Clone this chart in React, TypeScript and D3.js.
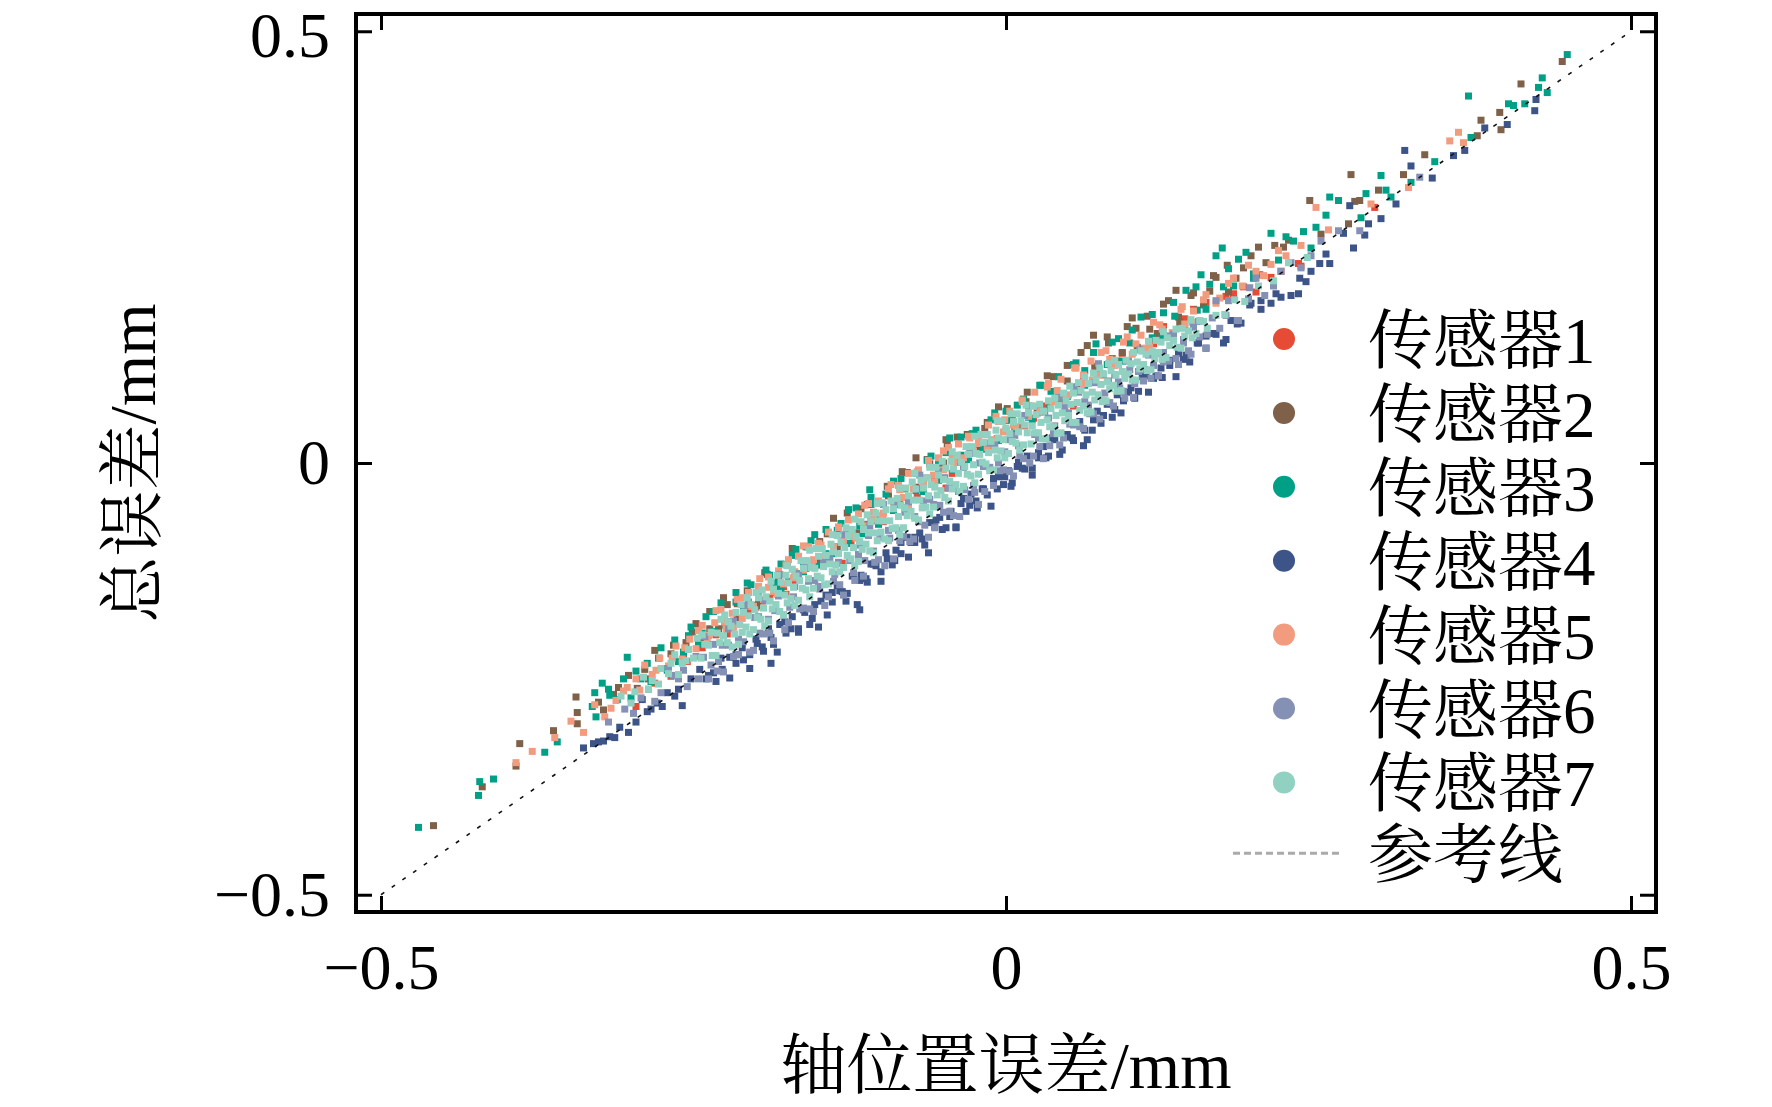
import React, { useEffect, useRef } from 'react';
import * as d3 from 'd3';

type Pt = [number, number];

const sensorNames = ['传感器1', '传感器2', '传感器3', '传感器4', '传感器5', '传感器6', '传感器7'];
const sensorColors = ['#E64B35', '#7E6148', '#00A087', '#3C5488', '#F39B7F', '#8491B4', '#91D1C2'];
const refLabel = '参考线';
const tickValues = [-0.5, 0, 0.5];
const refLine: Pt[] = [[-0.5, -0.5], [0.5, 0.5]];

// [轴位置误差, 总误差] per sensor
const sensor1: Pt[] = [
  [-0.296,-0.282],[-0.281,-0.255],[-0.268,-0.247],[-0.255,-0.230],[-0.243,-0.214],[-0.232,-0.199],[-0.223,-0.198],
  [-0.214,-0.180],[-0.206,-0.172],[-0.200,-0.167],[-0.195,-0.160],[-0.189,-0.156],[-0.184,-0.150],[-0.178,-0.143],
  [-0.170,-0.140],[-0.160,-0.122],[-0.149,-0.118],[-0.137,-0.100],[-0.124,-0.093],[-0.112,-0.071],[-0.098,-0.068],
  [-0.085,-0.046],[-0.071,-0.040],[-0.057,-0.018],[-0.043,-0.012],[-0.028,0.012],[-0.014,0.016],[0.000,0.038],
  [0.015,0.043],[0.031,0.066],[0.047,0.073],[0.062,0.098],[0.078,0.102],[0.093,0.127],[0.110,0.132],[0.126,0.158],
  [0.143,0.167],[0.160,0.186],[0.176,0.193],[0.190,0.204],[0.200,0.198],[0.212,0.215],[0.220,0.222],[0.234,0.231],
  [0.236,0.228],[0.295,0.296],
  [-0.219,-0.190],[-0.197,-0.159],[-0.176,-0.152],[-0.153,-0.120],[-0.131,-0.116],[-0.108,-0.067],[-0.079,-0.052],
  [-0.048,-0.029],[-0.003,-0.012],[0.022,0.052],[0.054,0.066],[0.085,0.121],[0.118,0.138],[0.150,0.178],[0.182,0.196],
];

const sensor2: Pt[] = [
  [-0.458,-0.420],[-0.419,-0.375],[-0.392,-0.351],[-0.389,-0.325],[-0.362,-0.310],[-0.344,-0.271],[-0.343,-0.289],
  [-0.343,-0.302],[-0.322,-0.286],[-0.310,-0.260],[-0.295,-0.261],[-0.289,-0.239],[-0.281,-0.217],[-0.274,-0.238],
  [-0.266,-0.211],[-0.258,-0.221],[-0.251,-0.196],[-0.244,-0.208],[-0.237,-0.172],[-0.230,-0.192],[-0.223,-0.164],
  [-0.215,-0.181],[-0.207,-0.148],[-0.199,-0.165],[-0.191,-0.129],[-0.183,-0.146],[-0.175,-0.118],[-0.167,-0.132],
  [-0.159,-0.097],[-0.151,-0.115],[-0.143,-0.082],[-0.135,-0.097],[-0.127,-0.058],[-0.119,-0.081],[-0.111,-0.048],
  [-0.103,-0.066],[-0.095,-0.027],[-0.087,-0.048],[-0.079,-0.011],[-0.072,0.006],[-0.071,-0.030],[-0.063,0.004],
  [-0.055,-0.016],[-0.048,0.027],[-0.047,0.022],[-0.039,0.001],[-0.031,0.033],[-0.023,0.015],[-0.015,0.047],
  [-0.007,0.028],[0.001,0.063],[0.009,0.041],[0.017,0.082],[0.025,0.058],[0.033,0.101],[0.041,0.073],[0.049,0.113],
  [0.057,0.088],[0.065,0.136],[0.070,0.148],[0.073,0.104],[0.081,0.146],[0.089,0.118],[0.097,0.158],[0.101,0.168],
  [0.105,0.134],[0.113,0.170],[0.121,0.150],[0.130,0.188],[0.136,0.200],[0.139,0.163],[0.148,0.194],[0.158,0.183],
  [0.166,0.217],[0.168,0.215],[0.178,0.198],[0.190,0.226],[0.202,0.250],[0.203,0.218],[0.215,0.252],[0.222,0.250],
  [0.243,0.304],[0.252,0.265],[0.274,0.277],[0.276,0.334],[0.279,0.303],[0.283,0.304],[0.298,0.316],[0.318,0.334],
  [0.335,0.357],[0.377,0.379],[0.380,0.397],[0.395,0.406],[0.396,0.386],[0.412,0.439],[0.445,0.465],
  [-0.248,-0.186],[-0.237,-0.192],[-0.226,-0.156],[-0.215,-0.163],[-0.204,-0.166],[-0.193,-0.127],[-0.182,-0.133],
  [-0.171,-0.099],[-0.160,-0.119],[-0.149,-0.091],[-0.138,-0.064],[-0.127,-0.080],[-0.116,-0.053],[-0.105,-0.066],
  [-0.094,-0.038],[-0.083,-0.010],[-0.072,-0.028],[-0.061,-0.001],[-0.050,0.000],[-0.039,0.030],[-0.028,0.014],
  [-0.017,0.040],[-0.006,0.065],[0.005,0.050],[0.016,0.071],[0.027,0.065],[0.038,0.100],[0.049,0.095],[0.060,0.128],
  [0.071,0.112],[0.082,0.139],[0.093,0.128],[0.104,0.156],[0.115,0.155],[0.126,0.184],[0.138,0.169],[0.150,0.197],
  [0.163,0.199],[0.177,0.229],
  [-0.326,-0.277],[-0.314,-0.268],[-0.302,-0.246],[-0.286,-0.250],[-0.268,-0.221],[-0.256,-0.208],
  [0.184,0.214],[0.196,0.240],[0.208,0.232],[0.226,0.258],
];

const sensor3: Pt[] = [
  [-0.470,-0.422],[-0.422,-0.385],[-0.421,-0.369],[-0.410,-0.366],[-0.369,-0.335],[-0.359,-0.323],[-0.331,-0.282],
  [-0.329,-0.266],[-0.328,-0.294],[-0.323,-0.255],[-0.317,-0.269],[-0.311,-0.274],[-0.303,-0.225],[-0.300,-0.272],
  [-0.292,-0.250],[-0.284,-0.253],[-0.278,-0.226],[-0.271,-0.240],[-0.265,-0.205],[-0.258,-0.219],[-0.252,-0.190],
  [-0.246,-0.210],[-0.240,-0.178],[-0.234,-0.195],[-0.228,-0.162],[-0.222,-0.184],[-0.216,-0.150],[-0.210,-0.170],
  [-0.204,-0.141],[-0.198,-0.157],[-0.192,-0.124],[-0.186,-0.148],[-0.184,-0.139],[-0.180,-0.117],[-0.174,-0.137],
  [-0.168,-0.100],[-0.162,-0.126],[-0.160,-0.097],[-0.156,-0.090],[-0.150,-0.118],[-0.144,-0.077],[-0.138,-0.105],
  [-0.132,-0.070],[-0.126,-0.093],[-0.120,-0.052],[-0.114,-0.082],[-0.109,-0.031],[-0.108,-0.040],[-0.102,-0.071],
  [-0.096,-0.036],[-0.090,-0.055],[-0.084,-0.018],[-0.078,-0.044],[-0.072,-0.012],[-0.066,-0.033],[-0.060,0.008],
  [-0.054,-0.020],[-0.048,0.012],[-0.042,-0.008],[-0.036,0.030],[-0.030,0.004],[-0.024,0.038],[-0.018,0.016],
  [-0.012,0.050],[-0.006,0.026],[0.000,0.060],[0.007,0.038],[0.014,0.074],[0.021,0.050],[0.028,0.090],[0.035,0.064],
  [0.042,0.100],[0.049,0.077],[0.056,0.116],[0.063,0.090],[0.070,0.128],[0.077,0.103],[0.085,0.140],[0.093,0.118],
  [0.101,0.154],[0.109,0.130],[0.117,0.172],[0.125,0.146],[0.134,0.186],[0.143,0.160],[0.152,0.204],[0.160,0.178],
  [0.168,0.240],[0.173,0.249],[0.182,0.205],[0.198,0.214],[0.212,0.266],[0.218,0.235],[0.230,0.257],[0.244,0.249],
  [0.248,0.273],[0.256,0.287],[0.259,0.308],[0.266,0.304],[0.284,0.284],[0.288,0.312],[0.300,0.333],[0.304,0.316],
  [0.308,0.308],[0.324,0.325],[0.343,0.349],[0.370,0.425],[0.372,0.377],[0.402,0.416],[0.406,0.414],[0.415,0.416],
  [0.426,0.435],[0.429,0.446],[0.433,0.429],[0.449,0.473],
  [-0.243,-0.197],[-0.234,-0.172],[-0.225,-0.188],[-0.216,-0.161],[-0.207,-0.139],[-0.198,-0.155],[-0.189,-0.130],
  [-0.180,-0.146],[-0.171,-0.107],[-0.162,-0.114],[-0.153,-0.083],[-0.144,-0.105],[-0.135,-0.078],[-0.126,-0.054],
  [-0.117,-0.073],[-0.108,-0.048],[-0.099,-0.063],[-0.090,-0.021],[-0.081,-0.030],[-0.072,-0.032],[-0.063,0.003],
  [-0.054,-0.001],[-0.045,0.029],[-0.036,0.009],[-0.027,0.034],[-0.018,0.019],[-0.009,0.058],[0.000,0.049],
  [0.009,0.067],[0.018,0.053],[0.027,0.090],[0.036,0.083],[0.045,0.075],[0.054,0.114],[0.063,0.107],[0.072,0.138],
  [0.081,0.114],[0.090,0.144],[0.099,0.139],[0.108,0.169],[0.117,0.145],[0.126,0.174],[0.135,0.170],[0.144,0.200],
  [0.153,0.177],[0.163,0.207],[0.174,0.204],[0.186,0.236],[0.198,0.219],
  [-0.318,-0.262],[-0.306,-0.250],[-0.296,-0.241],[-0.287,-0.232],[-0.276,-0.214],[-0.262,-0.230],[-0.254,-0.200],
  [0.156,0.218],[0.178,0.225],[0.192,0.244],[0.224,0.262],[0.238,0.268],
];

const sensor4: Pt[] = [
  [-0.338,-0.330],[-0.330,-0.325],[-0.326,-0.323],[-0.317,-0.317],[-0.309,-0.306],[-0.302,-0.312],[-0.291,-0.274],
  [-0.287,-0.288],[-0.279,-0.278],[-0.271,-0.266],[-0.265,-0.270],[-0.259,-0.281],[-0.252,-0.250],[-0.245,-0.239],
  [-0.240,-0.250],[-0.234,-0.243],[-0.228,-0.226],[-0.221,-0.225],[-0.216,-0.232],[-0.211,-0.214],[-0.205,-0.222],
  [-0.200,-0.204],[-0.195,-0.213],[-0.190,-0.192],[-0.188,-0.232],[-0.186,-0.210],[-0.181,-0.187],[-0.176,-0.197],
  [-0.171,-0.178],[-0.166,-0.192],[-0.162,-0.170],[-0.157,-0.187],[-0.153,-0.164],[-0.148,-0.160],[-0.143,-0.176],
  [-0.139,-0.150],[-0.135,-0.142],[-0.131,-0.149],[-0.127,-0.151],[-0.123,-0.131],[-0.119,-0.164],[-0.117,-0.170],
  [-0.116,-0.130],[-0.112,-0.134],[-0.108,-0.117],[-0.104,-0.119],[-0.100,-0.126],[-0.096,-0.104],[-0.091,-0.118],
  [-0.088,-0.101],[-0.084,-0.105],[-0.079,-0.086],[-0.076,-0.092],[-0.073,-0.092],[-0.069,-0.081],[-0.065,-0.095],
  [-0.061,-0.069],[-0.057,-0.074],[-0.053,-0.063],[-0.048,-0.075],[-0.044,-0.056],[-0.040,-0.075],[-0.036,-0.047],
  [-0.032,-0.056],[-0.028,-0.036],[-0.024,-0.044],[-0.019,-0.030],[-0.015,-0.037],[-0.010,-0.018],[-0.006,-0.016],
  [-0.002,-0.025],[0.002,-0.009],[0.005,-0.023],[0.009,-0.004],[0.013,-0.006],[0.017,0.008],[0.021,-0.006],
  [0.026,0.006],[0.030,0.019],[0.034,0.008],[0.039,0.027],[0.045,0.015],[0.049,0.033],[0.053,0.029],[0.058,0.046],
  [0.062,0.020],[0.063,0.038],[0.069,0.038],[0.073,0.060],[0.078,0.055],[0.085,0.053],[0.089,0.079],[0.094,0.072],
  [0.100,0.087],[0.106,0.083],[0.112,0.101],[0.118,0.098],[0.124,0.110],[0.131,0.113],[0.138,0.127],[0.144,0.125],
  [0.154,0.139],[0.160,0.147],[0.166,0.150],[0.174,0.139],[0.180,0.165],[0.188,0.162],[0.196,0.185],[0.204,0.188],
  [0.212,0.185],[0.220,0.192],[0.228,0.194],[0.234,0.196],[0.235,0.214],[0.244,0.222],[0.251,0.231],[0.259,0.231],
  [0.270,0.266],[0.275,0.298],[0.278,0.249],[0.287,0.264],[0.290,0.277],[0.300,0.283],[0.312,0.300],[0.319,0.362],
  [0.324,0.344],[0.341,0.330],[0.358,0.356],[0.367,0.362],[0.383,0.388],[0.401,0.392],[0.423,0.408],[0.424,0.421],
  [-0.238,-0.246],[-0.232,-0.253],[-0.227,-0.239],[-0.221,-0.249],[-0.216,-0.222],[-0.210,-0.228],[-0.205,-0.238],
  [-0.199,-0.209],[-0.194,-0.218],[-0.188,-0.202],[-0.183,-0.219],[-0.177,-0.184],[-0.172,-0.192],[-0.166,-0.196],
  [-0.161,-0.173],[-0.155,-0.180],[-0.150,-0.190],[-0.144,-0.153],[-0.139,-0.161],[-0.133,-0.148],[-0.128,-0.160],
  [-0.122,-0.128],[-0.117,-0.136],[-0.111,-0.138],[-0.106,-0.117],[-0.100,-0.137],[-0.095,-0.111],[-0.089,-0.113],
  [-0.084,-0.092],[-0.078,-0.109],[-0.073,-0.086],[-0.067,-0.088],[-0.062,-0.104],[-0.056,-0.066],[-0.051,-0.077],
  [-0.045,-0.062],[-0.040,-0.074],[-0.034,-0.041],[-0.029,-0.049],[-0.023,-0.052],[-0.018,-0.030],[-0.012,-0.050],
  [-0.007,-0.030],[-0.001,-0.016],[0.004,-0.027],[0.010,0.001],[0.015,-0.007],[0.021,-0.014],[0.026,0.012],
  [0.032,0.006],[0.037,0.029],[0.043,0.010],[0.048,0.030],[0.054,0.026],[0.059,0.048],[0.065,0.027],[0.070,0.050],
  [0.076,0.046],[0.081,0.068],[0.087,0.062],[0.092,0.058],[0.098,0.082],[0.103,0.075],[0.109,0.100],[0.114,0.082],
  [0.120,0.101],[0.125,0.099],[0.131,0.119],[0.136,0.100],[0.142,0.120],[0.147,0.117],[0.153,0.139],[0.160,0.133],
  [0.168,0.149],[0.176,0.143],[0.185,0.161],[0.195,0.183],
  [-0.322,-0.322],[-0.313,-0.318],[-0.296,-0.300],[-0.284,-0.285],[-0.275,-0.282],[-0.262,-0.262],
  [0.204,0.178],[0.216,0.196],[0.240,0.210],[0.256,0.242],
];

const sensor5: Pt[] = [
  [-0.392,-0.347],[-0.379,-0.334],[-0.361,-0.318],[-0.348,-0.299],[-0.338,-0.312],[-0.329,-0.280],[-0.321,-0.294],
  [-0.312,-0.275],[-0.303,-0.260],[-0.296,-0.250],[-0.289,-0.234],[-0.283,-0.245],[-0.277,-0.226],[-0.270,-0.235],
  [-0.264,-0.212],[-0.259,-0.227],[-0.253,-0.204],[-0.248,-0.215],[-0.243,-0.188],[-0.238,-0.200],[-0.233,-0.185],
  [-0.228,-0.170],[-0.224,-0.192],[-0.219,-0.174],[-0.215,-0.158],[-0.211,-0.180],[-0.206,-0.150],[-0.202,-0.166],
  [-0.198,-0.143],[-0.194,-0.158],[-0.190,-0.132],[-0.186,-0.149],[-0.182,-0.125],[-0.178,-0.140],[-0.174,-0.112],
  [-0.170,-0.133],[-0.166,-0.108],[-0.162,-0.124],[-0.158,-0.097],[-0.154,-0.112],[-0.150,-0.093],[-0.146,-0.110],
  [-0.142,-0.080],[-0.138,-0.097],[-0.134,-0.075],[-0.130,-0.090],[-0.126,-0.066],[-0.122,-0.085],[-0.118,-0.059],
  [-0.114,-0.073],[-0.110,-0.047],[-0.106,-0.065],[-0.102,-0.044],[-0.098,-0.058],[-0.094,-0.030],[-0.090,-0.050],
  [-0.086,-0.026],[-0.082,-0.040],[-0.078,-0.012],[-0.074,-0.030],[-0.070,-0.008],[-0.066,-0.022],[-0.062,0.003],
  [-0.058,-0.014],[-0.054,0.006],[-0.050,-0.008],[-0.046,0.018],[-0.042,0.001],[-0.038,0.022],[-0.034,0.006],
  [-0.030,0.031],[-0.026,0.014],[-0.022,0.030],[-0.018,0.024],[-0.014,0.044],[-0.010,0.027],[-0.006,0.048],
  [-0.002,0.036],[0.003,0.060],[0.008,0.042],[0.013,0.071],[0.018,0.054],[0.023,0.082],[0.028,0.060],[0.033,0.088],
  [0.038,0.071],[0.044,0.097],[0.050,0.079],[0.056,0.110],[0.062,0.092],[0.068,0.118],[0.074,0.102],[0.080,0.130],
  [0.087,0.113],[0.094,0.140],[0.101,0.126],[0.108,0.148],[0.115,0.134],[0.123,0.160],[0.131,0.147],[0.140,0.178],
  [0.143,0.161],[0.149,0.163],[0.158,0.189],[0.168,0.185],[0.178,0.208],[0.189,0.205],[0.200,0.222],[0.212,0.230],
  [0.224,0.240],[0.236,0.252],[0.248,0.296],[0.258,0.270],[0.292,0.300],[0.322,0.319],[0.355,0.373],[0.362,0.383],
  [0.366,0.371],
  [-0.246,-0.194],[-0.239,-0.205],[-0.232,-0.171],[-0.225,-0.184],[-0.218,-0.190],[-0.211,-0.156],[-0.204,-0.166],
  [-0.197,-0.134],[-0.190,-0.144],[-0.183,-0.152],[-0.176,-0.118],[-0.169,-0.126],[-0.162,-0.096],[-0.155,-0.119],
  [-0.148,-0.095],[-0.141,-0.114],[-0.134,-0.074],[-0.127,-0.082],[-0.120,-0.087],[-0.113,-0.049],[-0.106,-0.057],
  [-0.099,-0.061],[-0.092,-0.025],[-0.085,-0.031],[-0.078,-0.049],[-0.071,-0.010],[-0.064,-0.017],[-0.057,-0.022],
  [-0.050,0.014],[-0.043,0.007],[-0.036,0.004],[-0.029,0.029],[-0.022,0.023],[-0.015,0.018],[-0.008,0.054],
  [-0.001,0.050],[0.006,0.044],[0.013,0.073],[0.020,0.066],[0.027,0.059],[0.034,0.092],[0.041,0.084],[0.048,0.078],
  [0.055,0.110],[0.062,0.102],[0.069,0.096],[0.076,0.128],[0.083,0.120],[0.090,0.114],[0.097,0.146],[0.104,0.138],
  [0.111,0.133],[0.118,0.163],[0.125,0.155],[0.133,0.151],[0.141,0.181],[0.150,0.176],[0.160,0.195],[0.171,0.191],
  [-0.316,-0.284],[-0.306,-0.264],[-0.293,-0.263],[-0.280,-0.240],[-0.267,-0.226],[-0.257,-0.214],
  [0.182,0.214],[0.194,0.229],[0.206,0.217],[0.218,0.246],
];

const sensor6: Pt[] = [
  [-0.292,-0.272],[-0.281,-0.276],[-0.270,-0.238],[-0.262,-0.250],[-0.255,-0.259],[-0.248,-0.224],[-0.241,-0.201],
  [-0.236,-0.234],[-0.231,-0.241],[-0.227,-0.211],[-0.222,-0.192],[-0.218,-0.224],[-0.214,-0.204],[-0.209,-0.165],
  [-0.205,-0.219],[-0.201,-0.179],[-0.197,-0.197],[-0.193,-0.159],[-0.189,-0.197],[-0.185,-0.171],[-0.181,-0.129],
  [-0.177,-0.193],[-0.173,-0.167],[-0.169,-0.143],[-0.165,-0.169],[-0.161,-0.121],[-0.157,-0.169],[-0.153,-0.136],
  [-0.149,-0.146],[-0.145,-0.165],[-0.141,-0.112],[-0.137,-0.129],[-0.133,-0.141],[-0.129,-0.083],[-0.125,-0.113],
  [-0.121,-0.136],[-0.117,-0.095],[-0.113,-0.113],[-0.109,-0.073],[-0.105,-0.115],[-0.101,-0.086],[-0.097,-0.119],
  [-0.093,-0.087],[-0.089,-0.046],[-0.085,-0.090],[-0.081,-0.057],[-0.077,-0.091],[-0.073,-0.062],[-0.069,-0.014],
  [-0.065,-0.072],[-0.061,-0.042],[-0.057,-0.075],[-0.053,-0.049],[-0.049,-0.017],[-0.045,-0.056],[-0.041,-0.028],
  [-0.037,-0.062],[-0.033,-0.031],[-0.029,0.011],[-0.025,-0.034],[-0.021,0.000],[-0.017,-0.033],[-0.013,-0.005],
  [-0.009,0.021],[-0.005,-0.009],[-0.001,0.013],[0.003,-0.010],[0.007,0.032],[0.011,0.009],[0.015,0.055],
  [0.019,0.000],[0.023,0.033],[0.027,0.019],[0.031,0.059],[0.035,0.020],[0.039,0.043],[0.043,0.021],[0.047,0.065],
  [0.051,0.045],[0.055,0.088],[0.059,0.042],[0.063,0.071],[0.067,0.057],[0.071,0.093],[0.075,0.051],[0.079,0.081],
  [0.083,0.070],[0.087,0.102],[0.091,0.087],[0.095,0.075],[0.099,0.108],[0.103,0.092],[0.107,0.131],[0.111,0.108],
  [0.116,0.098],[0.121,0.127],[0.126,0.117],[0.131,0.147],[0.136,0.121],[0.142,0.143],[0.148,0.126],[0.154,0.164],
  [0.161,0.149],[0.168,0.188],[0.176,0.171],[0.185,0.165],[0.195,0.203],[0.207,0.194],[0.220,0.222],[0.236,0.226],
  [0.252,0.257],[0.266,0.269],[0.283,0.269],[0.331,0.331],
  [-0.246,-0.250],[-0.242,-0.225],[-0.238,-0.250],[-0.234,-0.210],[-0.230,-0.230],[-0.226,-0.242],[-0.222,-0.211],
  [-0.218,-0.183],[-0.214,-0.222],[-0.210,-0.207],[-0.206,-0.161],[-0.202,-0.217],[-0.198,-0.178],[-0.194,-0.198],
  [-0.190,-0.181],[-0.186,-0.206],[-0.182,-0.154],[-0.178,-0.176],[-0.174,-0.185],[-0.170,-0.155],[-0.166,-0.128],
  [-0.162,-0.168],[-0.158,-0.137],[-0.154,-0.172],[-0.150,-0.143],[-0.146,-0.115],[-0.142,-0.155],[-0.138,-0.137],
  [-0.134,-0.115],[-0.130,-0.153],[-0.126,-0.084],[-0.122,-0.127],[-0.118,-0.106],[-0.114,-0.131],[-0.110,-0.084],
  [-0.106,-0.102],[-0.102,-0.112],[-0.098,-0.048],[-0.094,-0.078],[-0.090,-0.111],[-0.086,-0.078],[-0.082,-0.085],
  [-0.078,-0.045],[-0.074,-0.088],[-0.070,-0.068],[-0.066,-0.044],[-0.062,-0.086],[-0.058,-0.048],[-0.054,-0.010],
  [-0.050,-0.057],[-0.046,-0.029],[-0.042,-0.061],[-0.038,-0.033],[-0.034,-0.005],[-0.030,-0.042],[-0.026,-0.026],
  [-0.022,-0.048],[-0.018,-0.004],[-0.014,0.023],[-0.010,-0.026],[-0.006,0.000],[-0.002,-0.008],[0.002,0.027],
  [0.006,-0.015],[0.010,0.020],[0.014,0.005],[0.018,0.066],[0.022,0.008],[0.026,0.029],[0.030,0.005],[0.034,0.052],
  [0.038,0.034],[0.042,0.076],[0.046,0.029],[0.050,0.058],[0.054,0.044],[0.058,0.082],[0.062,0.040],[0.066,0.067],
  [0.070,0.057],[0.074,0.115],[0.078,0.072],[0.082,0.095],[0.086,0.066],[0.090,0.094],[0.094,0.083],[0.098,0.118],
  [0.102,0.076],[0.106,0.106],[0.110,0.095],[0.114,0.125],[0.118,0.113],[0.122,0.101],[0.126,0.128],[0.130,0.118],
  [0.134,0.149],[0.138,0.114],[0.142,0.139],[0.146,0.130],[0.150,0.157],[0.155,0.146],[0.160,0.133],[0.165,0.168],
  [0.171,0.156],[0.178,0.188],[0.186,0.165],[0.194,0.190],
  [-0.318,-0.300],[-0.305,-0.285],[-0.298,-0.290],[-0.286,-0.262],[-0.276,-0.266],[-0.266,-0.246],[-0.258,-0.240],
  [0.200,0.214],[0.214,0.205],[0.228,0.232],[0.244,0.240],
];

const sensor7: Pt[] = [
  [-0.308,-0.270],[-0.297,-0.265],[-0.290,-0.248],[-0.283,-0.252],[-0.276,-0.238],[-0.270,-0.244],[-0.265,-0.222],
  [-0.259,-0.232],[-0.254,-0.216],[-0.250,-0.226],[-0.247,-0.203],
  [-0.300,-0.278],[-0.286,-0.262],[-0.278,-0.256],[-0.268,-0.232],[-0.262,-0.245],[-0.256,-0.229],
  [-0.244,-0.226],[-0.241,-0.210],[-0.243,-0.199],[-0.235,-0.223],[-0.238,-0.211],[-0.236,-0.196],
  [-0.232,-0.223],[-0.229,-0.208],[-0.231,-0.197],[-0.228,-0.181],[-0.223,-0.208],[-0.226,-0.200],[-0.222,-0.184],
  [-0.225,-0.176],[-0.219,-0.213],[-0.217,-0.198],[-0.220,-0.189],[-0.216,-0.173],
  [-0.214,-0.210],[-0.211,-0.196],[-0.213,-0.187],[-0.210,-0.173],[-0.212,-0.164],
  [-0.205,-0.198],[-0.208,-0.190],[-0.206,-0.177],[-0.204,-0.164],[-0.207,-0.156],
  [-0.202,-0.193],[-0.199,-0.179],[-0.201,-0.170],[-0.198,-0.156],[-0.200,-0.150],
  [-0.193,-0.189],[-0.196,-0.181],[-0.194,-0.168],[-0.192,-0.155],[-0.195,-0.147],
  [-0.190,-0.183],[-0.187,-0.169],[-0.189,-0.160],[-0.186,-0.146],[-0.188,-0.137],
  [-0.181,-0.172],[-0.184,-0.164],[-0.182,-0.151],[-0.180,-0.138],[-0.183,-0.130],
  [-0.178,-0.176],[-0.175,-0.162],[-0.177,-0.153],[-0.174,-0.139],[-0.176,-0.130],[-0.175,-0.119],
  [-0.169,-0.165],[-0.172,-0.157],[-0.170,-0.144],[-0.168,-0.131],[-0.171,-0.123],
  [-0.166,-0.159],[-0.163,-0.145],[-0.165,-0.136],[-0.162,-0.122],[-0.164,-0.113],
  [-0.157,-0.155],[-0.160,-0.147],[-0.158,-0.134],[-0.156,-0.121],[-0.159,-0.113],[-0.157,-0.101],
  [-0.154,-0.145],[-0.151,-0.131],[-0.153,-0.122],[-0.150,-0.108],[-0.152,-0.099],
  [-0.145,-0.141],[-0.148,-0.133],[-0.146,-0.120],[-0.144,-0.107],[-0.147,-0.099],
  [-0.142,-0.140],[-0.139,-0.126],[-0.141,-0.117],[-0.138,-0.103],[-0.140,-0.094],[-0.139,-0.083],
  [-0.133,-0.126],[-0.136,-0.118],[-0.134,-0.105],[-0.132,-0.092],[-0.135,-0.084],
  [-0.130,-0.121],[-0.127,-0.107],[-0.129,-0.098],[-0.126,-0.084],[-0.128,-0.075],
  [-0.121,-0.119],[-0.124,-0.111],[-0.122,-0.098],[-0.120,-0.085],[-0.123,-0.077],[-0.121,-0.065],
  [-0.118,-0.114],[-0.115,-0.100],[-0.117,-0.091],[-0.114,-0.077],[-0.116,-0.068],
  [-0.109,-0.102],[-0.112,-0.094],[-0.110,-0.081],[-0.108,-0.068],[-0.111,-0.060],
  [-0.106,-0.104],[-0.103,-0.090],[-0.105,-0.081],[-0.102,-0.067],[-0.104,-0.058],[-0.103,-0.047],
  [-0.097,-0.088],[-0.100,-0.080],[-0.098,-0.067],[-0.096,-0.054],[-0.099,-0.046],
  [-0.094,-0.090],[-0.091,-0.076],[-0.093,-0.067],[-0.090,-0.053],[-0.092,-0.044],
  [-0.085,-0.083],[-0.088,-0.075],[-0.086,-0.062],[-0.084,-0.049],[-0.087,-0.041],[-0.085,-0.029],
  [-0.082,-0.075],[-0.079,-0.061],[-0.081,-0.052],[-0.078,-0.038],[-0.080,-0.029],
  [-0.073,-0.064],[-0.076,-0.056],[-0.074,-0.043],[-0.072,-0.030],[-0.075,-0.022],[-0.073,-0.012],
  [-0.070,-0.066],[-0.067,-0.052],[-0.069,-0.043],[-0.066,-0.029],[-0.068,-0.020],
  [-0.061,-0.059],[-0.064,-0.051],[-0.062,-0.038],[-0.060,-0.025],[-0.063,-0.017],[-0.061,-0.005],
  [-0.058,-0.051],[-0.055,-0.037],[-0.057,-0.028],[-0.054,-0.014],[-0.056,-0.005],
  [-0.049,-0.040],[-0.052,-0.032],[-0.050,-0.019],[-0.048,-0.006],[-0.051,0.002],
  [-0.046,-0.044],[-0.043,-0.030],[-0.045,-0.021],[-0.042,-0.007],[-0.044,0.002],[-0.043,0.013],
  [-0.037,-0.033],[-0.040,-0.025],[-0.038,-0.012],[-0.036,0.001],[-0.039,0.009],
  [-0.034,-0.027],[-0.031,-0.013],[-0.033,-0.004],[-0.030,0.010],[-0.032,0.019],
  [-0.025,-0.023],[-0.028,-0.015],[-0.026,-0.002],[-0.024,0.011],[-0.027,0.019],[-0.025,0.031],
  [-0.022,-0.013],[-0.019,0.001],[-0.021,0.010],[-0.018,0.024],[-0.020,0.033],
  [-0.013,-0.009],[-0.016,-0.001],[-0.014,0.012],[-0.012,0.025],[-0.015,0.033],
  [-0.010,-0.008],[-0.007,0.006],[-0.009,0.015],[-0.006,0.029],[-0.008,0.038],[-0.007,0.049],
  [-0.001,0.006],[-0.004,0.014],[-0.002,0.027],[0.000,0.040],[-0.003,0.048],
  [0.002,0.011],[0.005,0.025],[0.003,0.034],[0.006,0.048],[0.004,0.057],
  [0.011,0.015],[0.008,0.023],[0.010,0.036],[0.012,0.049],[0.009,0.057],
  [0.014,0.021],[0.017,0.035],[0.015,0.044],[0.018,0.058],[0.016,0.067],
  [0.020,0.022],[0.023,0.035],[0.021,0.043],[0.024,0.056],[0.022,0.066],
  [0.029,0.028],[0.026,0.035],[0.028,0.047],[0.030,0.060],[0.027,0.068],
  [0.032,0.028],[0.035,0.042],[0.033,0.050],[0.036,0.063],[0.034,0.072],
  [0.041,0.034],[0.038,0.042],[0.040,0.055],[0.042,0.067],[0.039,0.075],
  [0.044,0.035],[0.047,0.049],[0.045,0.058],[0.048,0.072],[0.046,0.081],
  [0.053,0.047],[0.050,0.055],[0.052,0.068],[0.054,0.081],[0.051,0.089],
  [0.056,0.047],[0.059,0.061],[0.057,0.070],[0.060,0.084],[0.058,0.093],
  [0.065,0.058],[0.062,0.066],[0.064,0.079],[0.066,0.092],[0.063,0.100],
  [0.068,0.059],[0.071,0.073],[0.069,0.082],[0.072,0.096],[0.070,0.104],
  [0.077,0.071],[0.074,0.079],[0.076,0.091],[0.078,0.103],[0.075,0.110],
  [0.080,0.072],[0.083,0.086],[0.081,0.094],[0.084,0.107],[0.082,0.115],
  [0.089,0.083],[0.086,0.090],[0.088,0.102],[0.090,0.114],[0.087,0.119],
  [0.092,0.084],[0.095,0.098],[0.093,0.106],[0.096,0.119],
  [0.101,0.096],[0.098,0.103],[0.100,0.115],[0.102,0.128],
  [0.104,0.096],[0.107,0.109],[0.105,0.117],[0.108,0.130],
  [0.113,0.107],[0.110,0.114],[0.112,0.126],[0.114,0.141],
  [0.116,0.108],[0.119,0.121],[0.117,0.129],[0.120,0.142],
  [0.125,0.120],[0.122,0.128],[0.124,0.140],[0.126,0.152],
  [0.128,0.122],[0.131,0.136],[0.129,0.145],[0.137,0.134],[0.134,0.142],[0.136,0.155],
  [0.140,0.133],[0.143,0.147],[0.141,0.156],[0.149,0.145],[0.146,0.153],[0.148,0.166],
  [0.152,0.150],[0.155,0.165],[0.161,0.156],[0.158,0.164],
  [0.168,0.171],[0.175,0.172],[0.183,0.189],[0.191,0.187],[0.202,0.205],[0.214,0.211],[0.226,0.232],[0.241,0.238],
];

const sensorData: Pt[][] = [sensor1, sensor2, sensor3, sensor4, sensor5, sensor6, sensor7];

const WIDTH = 1772;
const HEIGHT = 1107;
const FONT = "'Liberation Serif', 'Times New Roman', 'Noto Serif CJK SC', 'Noto Sans CJK SC', serif";

const App = () => {
  const svgRef = useRef<SVGSVGElement>(null);

  useEffect(() => {
    if (!svgRef.current) return;
    const svg = d3.select(svgRef.current);
    svg.selectAll('*').remove();

    const margin = { top: 14, right: 116, bottom: 195, left: 356 };
    const x = d3.scaleLinear().domain([-0.52, 0.52]).range([margin.left, WIDTH - margin.right]);
    const y = d3.scaleLinear().domain([-0.52, 0.52]).range([HEIGHT - margin.bottom, margin.top]);
    const [x0, x1] = x.range();
    const [y0, y1] = y.range();

    svg.append('defs').append('clipPath').attr('id', 'plot-clip')
      .append('rect')
      .attr('x', x0).attr('y', y1)
      .attr('width', x1 - x0).attr('height', y0 - y1);

    // scatter, one group per sensor (sensor 7 drawn last, on top)
    const gPts = svg.append('g').attr('clip-path', 'url(#plot-clip)');
    const size = 7;
    sensorData.forEach((pts, i) => {
      gPts.append('g')
        .attr('fill', sensorColors[i])
        .selectAll('rect')
        .data(pts)
        .join('rect')
        .attr('x', d => x(d[0]) - size / 2)
        .attr('y', d => y(d[1]) - size / 2)
        .attr('width', size)
        .attr('height', size);
    });

    // reference line y = x
    const line = d3.line<Pt>().x(d => x(d[0])).y(d => y(d[1]));
    svg.append('path')
      .datum(refLine)
      .attr('d', line)
      .attr('fill', 'none')
      .attr('stroke', '#111')
      .attr('stroke-width', 1.6)
      .attr('stroke-dasharray', '4,9');

    // axes with inward ticks on all four sides
    const fmt = (d: d3.NumberValue) => (+d === 0 ? '0' : d3.format('.1f')(+d));
    const styleAxis = (g: d3.Selection<SVGGElement, unknown, null, undefined>) => {
      g.select('.domain').remove();
      g.selectAll('.tick line').attr('stroke', '#000').attr('stroke-width', 3);
      g.attr('font-family', FONT).attr('font-size', 64);
      g.selectAll('.tick text').attr('fill', '#000');
    };

    svg.append('g')
      .attr('transform', `translate(0,${y0})`)
      .call(d3.axisBottom(x).tickValues(tickValues).tickSize(-16).tickPadding(32).tickFormat(fmt))
      .call(styleAxis);
    const left = svg.append('g')
      .attr('transform', `translate(${x0},0)`)
      .call(d3.axisLeft(y).tickValues(tickValues).tickSize(-16).tickPadding(26).tickFormat(fmt))
      .call(styleAxis);
    // keep the top label's text box inside the page
    left.selectAll<SVGTextElement, number>('.tick text')
      .filter(d => d === 0.5)
      .attr('dy', '0.4em');
    svg.append('g')
      .attr('transform', `translate(0,${y1})`)
      .call(d3.axisTop(x).tickValues(tickValues).tickSize(-16).tickFormat(() => ''))
      .call(styleAxis);
    svg.append('g')
      .attr('transform', `translate(${x1},0)`)
      .call(d3.axisRight(y).tickValues(tickValues).tickSize(-16).tickFormat(() => ''))
      .call(styleAxis);

    // frame
    svg.append('rect')
      .attr('x', x0).attr('y', y1)
      .attr('width', x1 - x0).attr('height', y0 - y1)
      .attr('fill', 'none')
      .attr('stroke', '#000')
      .attr('stroke-width', 4);

    // axis titles
    svg.append('text')
      .attr('x', (x0 + x1) / 2)
      .attr('y', 1088)
      .attr('text-anchor', 'middle')
      .attr('font-family', FONT)
      .attr('font-size', 66)
      .text('轴位置误差/mm');
    svg.append('text')
      .attr('transform', `translate(155,${(y0 + y1) / 2}) rotate(-90)`)
      .attr('text-anchor', 'middle')
      .attr('font-family', FONT)
      .attr('font-size', 66)
      .text('总误差/mm');

    // legend
    const lg = svg.append('g').attr('font-family', FONT).attr('font-size', 65);
    const rowY = (i: number) => 339 + i * 73.9;
    sensorNames.forEach((name, i) => {
      lg.append('circle')
        .attr('cx', 1284)
        .attr('cy', rowY(i))
        .attr('r', 11)
        .attr('fill', sensorColors[i]);
      lg.append('text')
        .attr('x', 1368)
        .attr('y', rowY(i) + 24)
        .text(name);
    });
    const refY = rowY(sensorNames.length) - 3;
    lg.append('line')
      .attr('x1', 1233).attr('x2', 1343)
      .attr('y1', refY).attr('y2', refY)
      .attr('stroke', '#aaa')
      .attr('stroke-width', 3)
      .attr('stroke-dasharray', '7,4');
    lg.append('text')
      .attr('x', 1368)
      .attr('y', refY + 24)
      .text(refLabel);
  }, []);

  return (
    <svg
      ref={svgRef}
      width={WIDTH}
      height={HEIGHT}
      style={{ position: 'absolute', left: 0, top: 0, background: '#fff' }}
    ></svg>
  );
};

export default App;
